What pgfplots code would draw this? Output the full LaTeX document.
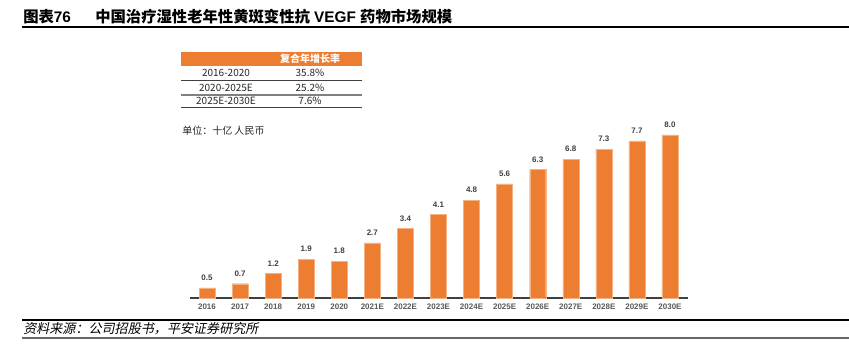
\documentclass[border=0pt]{standalone}
\usepackage{fontspec}
\setmainfont{Liberation Sans}
\newfontfamily\cjk{Noto Sans CJK SC}
\newfontfamily\cjkit{Noto Sans CJK SC}[FakeSlant=0.2]
\usepackage{pgfplots}
\pgfplotsset{compat=1.18}
\definecolor{bar}{HTML}{ED7D31}
\definecolor{lab}{HTML}{404040}
\definecolor{tick}{HTML}{595959}
\begin{document}
\begin{tikzpicture}[x=0.75pt,y=0.75pt]
\path[use as bounding box] (0,0) rectangle (849,352);
\coordinate (O) at (190,54);
% title
\node[anchor=west,inner sep=0] at (23,335) {\fontsize{11.5}{13}\selectfont\bfseries{\cjk 图表}76};
\node[anchor=west,inner sep=0] at (95,335) {\fontsize{11.5}{13}\selectfont\bfseries{\cjk 中国治疗湿性老年性黄斑变性抗} VEGF {\cjk 药物市场规模}};
\draw[line width=1.5pt] (22,325) -- (849,325);
% CAGR table
\fill[bar] (181,286) rectangle (362,300);
\node[text=white,inner sep=0] at (310,293) {\fontsize{7.5}{9}\selectfont\cjk\bfseries 复合年增长率};
\draw[lab, line width=0.6pt] (181,272) -- (362,272);
\draw[gray, line width=1.1pt] (181,257) -- (362,257);
\draw[lab, line width=0.6pt] (181,245) -- (362,245);
\begin{scope}[every node/.style={inner sep=0, text=black!85, font=\fontsize{7.5}{9}\selectfont\cjk}]
\node at (226,279) {2016-2020};
\node at (226,264) {2020-2025E};
\node at (226,251) {2025E-2030E};
\node at (310,279) {35.8\%};
\node at (310,264) {25.2\%};
\node at (310,251) {7.6\%};
\end{scope}
\node[anchor=west,inner sep=0,text=black!85] at (182,221) {\fontsize{7.5}{9}\selectfont\cjk 单位：十亿\ 人民币};
% chart
\begin{axis}[
  at={(O)}, anchor=south west, scale only axis,
  width=373.5pt, height=137.7pt,
  xmin=-0.514, xmax=14.545, ymin=0, ymax=9,
  axis x line=bottom, axis y line=none,
  x axis line style={-, draw=lab, line width=1pt},
  xtick=data,
  xticklabels={2016,2017,2018,2019,2020,2021E,2022E,2023E,2024E,2025E,2026E,2027E,2028E,2029E,2030E},
  major tick length=0pt,
  xticklabel style={font=\fontsize{6}{7}\selectfont\bfseries, text=tick, yshift=-1pt},
  ybar, bar width=12pt,
  nodes near coords,
  nodes near coords style={font=\fontsize{6}{7}\selectfont\bfseries, text=lab,
    /pgf/number format/assume math mode=true,
    /pgf/number format/fixed, /pgf/number format/fixed zerofill, /pgf/number format/precision=1, yshift=2pt},
  clip=false,
]
\addplot[fill=bar, draw=bar!60!white, line width=0.3pt] coordinates {
(0,0.5) (1,0.7) (2,1.2) (3,1.9) (4,1.8) (5,2.7) (6,3.4) (7,4.1) (8,4.8) (9,5.6) (10,6.3) (11,6.8) (12,7.3) (13,7.7) (14,8.0)};
\end{axis}
% source
\draw[line width=1.2pt] (22,32) -- (849,32);
\node[anchor=west,inner sep=0] at (23,23) {\fontsize{9.8}{11}\selectfont\cjkit 资料来源：公司招股书，平安证券研究所};
\draw[line width=1.8pt, color=gray!80!black] (22,14) -- (849,14);
\end{tikzpicture}
\end{document}
